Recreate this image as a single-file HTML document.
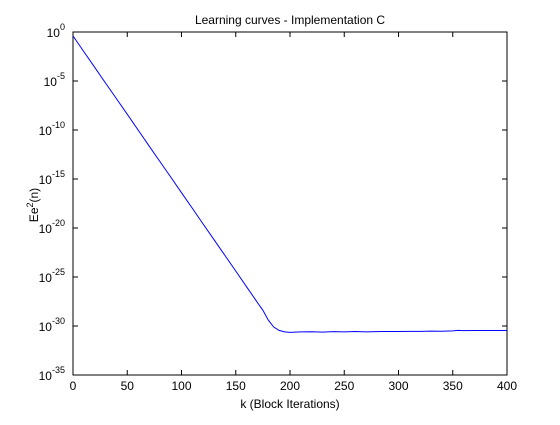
<!DOCTYPE html>
<html><head><meta charset="utf-8"><style>
body{margin:0;background:#fff;}
svg text{font-family:"Liberation Sans",Arial,sans-serif;font-size:12px;fill:#000;}
</style></head><body>
<svg width="560" height="420">
<rect width="560" height="420" fill="#fff"/>
<g id="axes"></g>
<path id="line" fill="none" stroke="#0000ff" stroke-width="1"/>
<text x="290" y="24" text-anchor="middle">Learning curves - Implementation C</text>
<text x="290" y="408" text-anchor="middle" font-size="13">k (Block Iterations)</text>
<text transform="translate(38,205) rotate(-90)" text-anchor="middle" font-size="13">Ee<tspan dy="-5" font-size="9">2</tspan><tspan dy="5">(n)</tspan></text>
</svg>
<script>
const kValues=[0,10,20,30,40,50,60,70,80,90,100,110,120,130,140,150,160,170,175,180,185,190,195,200,210,220,230,240,250,260,270,280,290,300,310,320,330,340,350,355,360,370,380,390,400];
const logErr=[-0.4,-2.0,-3.6,-5.2,-6.8,-8.4,-10.0,-11.6,-13.2,-14.8,-16.4,-18.0,-19.6,-21.2,-22.8,-24.4,-26.0,-27.6,-28.4,-29.4,-30.1,-30.45,-30.6,-30.65,-30.6,-30.58,-30.62,-30.57,-30.6,-30.56,-30.6,-30.57,-30.56,-30.56,-30.55,-30.55,-30.52,-30.53,-30.5,-30.45,-30.47,-30.46,-30.46,-30.46,-30.46];
const xTicks=[0,50,100,150,200,250,300,350,400];
const yTicks=[0,-5,-10,-15,-20,-25,-30,-35];
const L=73,R=507,T=32,B=375;
const xs=k=>L+(k-0)/400*(R-L);
const ys=v=>T+(0-v)/35*(B-T);
const ns="http://www.w3.org/2000/svg";
const ax=document.getElementById('axes');
function mk(tag,attrs){const e=document.createElementNS(ns,tag);for(const a in attrs)e.setAttribute(a,attrs[a]);ax.appendChild(e);return e;}
const frame=mk('rect',{x:L,y:T,width:R-L,height:B-T,fill:'none',stroke:'#000','stroke-width':1});


xTicks.forEach(t=>{const x=xs(t);
 mk('line',{x1:x,x2:x,y1:B,y2:B-5,stroke:'#000'});
 mk('line',{x1:x,x2:x,y1:T,y2:T+5,stroke:'#000'});
 const tx=mk('text',{x:x,y:B+15,'text-anchor':'middle','font-size':13});tx.textContent=t;
 
 
});
yTicks.forEach(t=>{const y=ys(t);
 mk('line',{x1:L,x2:L+5,y1:y,y2:y,stroke:'#000'});
 mk('line',{x1:R,x2:R-5,y1:y,y2:y,stroke:'#000'});
 const tx=mk('text',{x:L-8,y:y+5,'text-anchor':'end','font-size':13});
 tx.innerHTML='10<tspan dy="-7" font-size="9">'+t+'</tspan>';
 
 
});
document.getElementById('line').setAttribute('d',kValues.map((k,i)=>(i?'L':'M')+xs(k).toFixed(1)+','+ys(logErr[i]).toFixed(1)).join(''));
</script>
</body></html>
